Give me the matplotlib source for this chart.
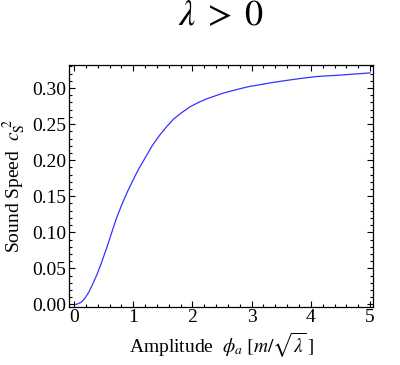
import numpy as np
import matplotlib.pyplot as plt
from matplotlib.ticker import MultipleLocator

plt.rcParams['font.family'] = 'Liberation Serif'
plt.rcParams['mathtext.fontset'] = 'stix'

# values
amplitude = [0.03, 0.07, 0.12, 0.18, 0.25, 0.32, 0.39, 0.46, 0.55, 0.63, 0.71, 0.80,
             0.90, 1.0, 1.1, 1.2, 1.32, 1.45, 1.56, 1.68, 1.82, 1.96, 2.1, 2.24, 2.38,
             2.52, 2.66, 2.8, 2.95, 3.1, 3.3, 3.54, 3.8, 4.1, 4.5, 5.0]
sound_speed = [0.0, 0.001, 0.003, 0.008, 0.017, 0.029, 0.042, 0.057, 0.078, 0.098,
               0.118, 0.137, 0.156, 0.173, 0.189, 0.203, 0.220, 0.235, 0.246, 0.257,
               0.266, 0.274, 0.280, 0.285, 0.289, 0.293, 0.296, 0.299, 0.302, 0.304,
               0.307, 0.310, 0.313, 0.316, 0.318, 0.321]

fig = plt.figure(figsize=(4, 3.65), dpi=100)
ax = fig.add_axes([0.1725, 0.160, 0.76, 0.662])

ax.plot(amplitude, sound_speed, color='#3333ff', lw=0.9)

ax.set_xlim(-0.085, 5.05)
ax.set_ylim(-0.003, 0.332)
ax.xaxis.set_major_locator(MultipleLocator(1))
ax.xaxis.set_minor_locator(MultipleLocator(0.2))
ax.yaxis.set_major_locator(MultipleLocator(0.05))
ax.yaxis.set_minor_locator(MultipleLocator(0.01))
ax.yaxis.set_major_formatter(plt.FuncFormatter(lambda v, p: '%.2f' % v))

ax.tick_params(which='both', direction='in', top=True, right=True, labelsize=14, width=0.8)
ax.tick_params(which='major', length=4, pad=2)
ax.tick_params(which='minor', length=2)
for s in ax.spines.values():
    s.set_linewidth(0.9)

ax.set_xlabel(r'Amplitude  $\phi_a\ [m/\sqrt{\lambda}\,]$', fontsize=14, labelpad=3)
ax.set_ylabel(r'Sound Speed  $c_{\rm S}^{\ 2}$', fontsize=14, labelpad=3)
fig.text(0.553, 0.955, r'$\lambda\;>\;0$', fontsize=26, ha='center', va='center')

fig.savefig('out.png', dpi=100)
